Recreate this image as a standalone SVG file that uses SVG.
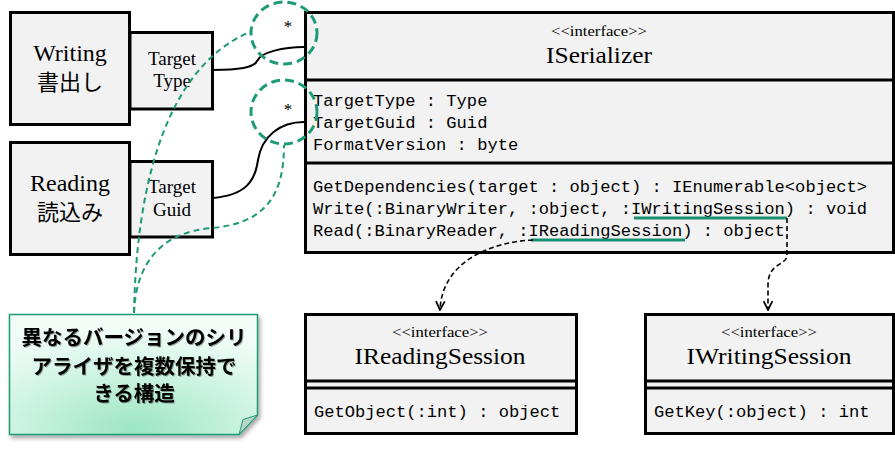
<svg xmlns="http://www.w3.org/2000/svg" width="895" height="475" viewBox="0 0 895 475">
<style>
.box{fill:#f2f2f2;stroke:#000;stroke-width:3}
.div{stroke:#000;stroke-width:3}
.serif{font-family:"Liberation Serif","Noto Sans CJK JP",serif;fill:#000}
.mono{font-family:"Liberation Mono","DejaVu Sans Mono",monospace;font-size:17.1px;fill:#000}
.stereo{font-size:14px;text-anchor:middle}
.title{font-size:23px;text-anchor:middle}
.assoc{fill:none;stroke:#000;stroke-width:2}
.dep{fill:none;stroke:#000;stroke-width:1.6;stroke-dasharray:5 3}
.gcirc{fill:none;stroke:#1e9a78;stroke-width:3;stroke-dasharray:9 5}
.gline{fill:none;stroke:#1e9a78;stroke-width:2;stroke-dasharray:6 4}
.uline{stroke:#17906f;stroke-width:3}
.note{font-family:"Noto Sans CJK JP",sans-serif;font-weight:bold;font-size:20.5px;text-anchor:middle;fill:#000}
</style>
<defs>
<marker id="open" viewBox="0 0 10 10" refX="9" refY="5" markerWidth="11" markerHeight="11" markerUnits="userSpaceOnUse" orient="auto">
<path d="M1,1 L9,5 L1,9" fill="none" stroke="#000" stroke-width="1.6"/>
</marker>
<radialGradient id="ng" cx="0.5" cy="1" r="0.9" fx="0.5" fy="0.95">
<stop offset="0" stop-color="#9de6c3"/>
<stop offset="0.6" stop-color="#d2f5e5"/>
<stop offset="1" stop-color="#f2fdf8"/>
</radialGradient>
<filter id="sh" x="-10%" y="-10%" width="125%" height="130%">
<feDropShadow dx="2" dy="3" stdDeviation="2" flood-color="#000" flood-opacity="0.35"/>
</filter>
<filter id="tsh" x="-5%" y="-20%" width="110%" height="140%">
<feDropShadow dx="1" dy="1" stdDeviation="0.6" flood-color="#000" flood-opacity="0.35"/>
</filter>
</defs>

<g id="writing">
<rect class="box" x="10.5" y="12.5" width="119" height="112"/>
<text class="serif" x="70" y="61" font-size="24" text-anchor="middle">Writing</text>
<text class="serif" x="70" y="90" font-size="22" text-anchor="middle">書出し</text>
</g>
<g id="target-type">
<rect class="box" x="130" y="32.5" width="82.5" height="76.5"/>
<text class="serif" x="172" y="65" font-size="19" text-anchor="middle">Target</text>
<text class="serif" x="172" y="87" font-size="19" text-anchor="middle">Type</text>
</g>
<g id="reading">
<rect class="box" x="10.5" y="142.5" width="119" height="112"/>
<text class="serif" x="70" y="191" font-size="24" text-anchor="middle">Reading</text>
<text class="serif" x="70" y="220" font-size="22" text-anchor="middle">読込み</text>
</g>
<g id="target-guid">
<rect class="box" x="130" y="161.5" width="82.5" height="75.5"/>
<text class="serif" x="172" y="193" font-size="19" text-anchor="middle">Target</text>
<text class="serif" x="172" y="216" font-size="19" text-anchor="middle">Guid</text>
</g>

<g id="iserializer">
<rect class="box" x="305.5" y="12.5" width="588" height="240"/>
<line class="div" x1="305.5" y1="80" x2="893.5" y2="80"/>
<line class="div" x1="305.5" y1="163" x2="893.5" y2="163"/>
<text class="serif stereo" x="599" y="36" textLength="96" lengthAdjust="spacingAndGlyphs">&lt;&lt;interface&gt;&gt;</text>
<text class="serif title" x="599" y="63" font-size="24" textLength="106" lengthAdjust="spacingAndGlyphs">ISerializer</text>
<text class="mono" x="313" y="106">TargetType : Type</text>
<text class="mono" x="313" y="128">TargetGuid : Guid</text>
<text class="mono" x="313" y="150">FormatVersion : byte</text>
<text class="mono" x="313" y="192">GetDependencies(target : object) : IEnumerable&lt;object&gt;</text>
<text class="mono" x="313" y="214">Write(:BinaryWriter, :object, :IWritingSession) : void</text>
<text class="mono" x="313" y="236">Read(:BinaryReader, :IReadingSession) : object</text>
<line class="uline" x1="634" y1="218" x2="787" y2="218"/>
<line class="uline" x1="531" y1="240" x2="685" y2="240"/>
</g>

<g id="ireadingsession">
<rect class="box" x="305.5" y="314.5" width="271" height="119"/>
<line class="div" x1="305.5" y1="381" x2="576.5" y2="381"/>
<line class="div" x1="305.5" y1="388" x2="576.5" y2="388"/>
<text class="serif stereo" x="440" y="337" textLength="96" lengthAdjust="spacingAndGlyphs">&lt;&lt;interface&gt;&gt;</text>
<text class="serif title" x="440" y="364" textLength="171" lengthAdjust="spacingAndGlyphs">IReadingSession</text>
<text class="mono" x="314" y="417">GetObject(:int) : object</text>
</g>

<g id="iwritingsession">
<rect class="box" x="645.5" y="314.5" width="248" height="119"/>
<line class="div" x1="645.5" y1="381" x2="893.5" y2="381"/>
<line class="div" x1="645.5" y1="388" x2="893.5" y2="388"/>
<text class="serif stereo" x="769" y="337" textLength="96" lengthAdjust="spacingAndGlyphs">&lt;&lt;interface&gt;&gt;</text>
<text class="serif title" x="769" y="364" textLength="165" lengthAdjust="spacingAndGlyphs">IWritingSession</text>
<text class="mono" x="654" y="417">GetKey(:object) : int</text>
</g>

<g id="note">
<path d="M9.5,314.5 H257.5 V415 L239,434.5 H9.5 Z" fill="url(#ng)" stroke="#1e9a78" stroke-width="1.5" filter="url(#sh)"/>
<path d="M257.5,415 L243,419.5 L239,434.5 Z" fill="#b9d6c8" stroke="#1e9a78" stroke-width="1"/>
<g filter="url(#tsh)">
<text class="note" x="134" y="345" textLength="225" lengthAdjust="spacingAndGlyphs">異なるバージョンのシリ</text>
<text class="note" x="134" y="374">アライザを複数保持で</text>
<text class="note" x="134" y="401">きる構造</text>
</g>
</g>

<g id="connectors">
<path class="assoc" d="M213,70 C238,70 254,68 257,61 C261,52 284,47 304,47"/>
<path class="assoc" d="M213,198 C245,195 255,182 258,160 C262,136 280,122 304,122"/>
<text class="serif" x="288" y="32" font-size="17" text-anchor="middle">*</text>
<text class="serif" x="288" y="115" font-size="17" text-anchor="middle">*</text>
<path class="dep" d="M533,240 C490,242 442,262 440,310" marker-end="url(#open)"/>
<path class="dep" d="M787,218 L787,255 C787,266 768,262 768,285 L768,310" marker-end="url(#open)"/>
<ellipse class="gcirc" cx="284" cy="33" rx="33" ry="31"/>
<ellipse class="gcirc" cx="284" cy="112" rx="33" ry="32"/>
<path class="gline" d="M134,313 C136,200 160,70 250,32"/>
<path class="gline" d="M134,313 C136,262 162,232 212,228 C266,223 284,195 284,145"/>
</g>
</svg>
